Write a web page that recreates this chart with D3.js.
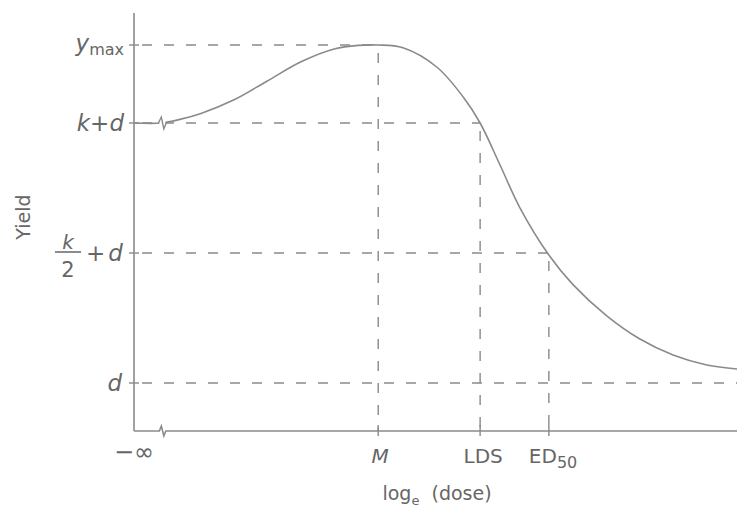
<!DOCTYPE html>
<html>
<head>
<meta charset="utf-8">
<script src="https://cdn.jsdelivr.net/npm/d3@7"></script>
<style>
  html, body { margin: 0; padding: 0; background: #fff; }
  svg { display: block; }
  text { font-family: "DejaVu Sans", "Liberation Sans", sans-serif; fill: #666; }
</style>
</head>
<body>
<svg id="chart" width="737" height="515"></svg>
<script>
// ---- data (arbitrary units) ----
const curveX = [0, 0.45, 0.76, 1.11, 1.66, 2.21, 2.77, 3.32, 3.72, 4.05, 4.46, 5.02, 5.46, 5.74, 6.07, 6.40, 6.88, 7.28, 7.84, 8.39, 8.94, 9.50, 10.0];
const curveY = [7.7, 7.7, 7.79, 7.94, 8.28, 8.75, 9.23, 9.55, 9.64, 9.65, 9.58, 9.10, 8.35, 7.70, 6.65, 5.58, 4.40, 3.66, 2.88, 2.30, 1.90, 1.65, 1.55];
const levelNames = ["ymax", "k+d", "k/2+d", "d"];
const levelValues = [9.65, 7.7, 4.45, 1.2];
const levelEnds = [4.05, 5.74, 6.88, 10.0];
const markerNames = ["M", "LDS", "ED50"];
const markerValues = [4.05, 5.74, 6.88];
const markerTops = [9.65, 7.7, 4.45];
const breakX = 0.47;
const xTitle = "log";
const yTitle = "Yield";

// ---- layout ----
const svg = d3.select("#chart");
const x = d3.scaleLinear().domain([0, 10]).range([134, 737]);
const y = d3.scaleLinear().domain([0, 10]).range([431, 31]);
const stroke = "#8a8a8a";

// axes
svg.append("line").attr("x1", x(0)).attr("x2", x(0)).attr("y1", y(10.45)).attr("y2", y(0))
  .attr("stroke", stroke).attr("stroke-width", 1.6);
const bx = x(breakX);
const axisPath = d3.path();
axisPath.moveTo(x(0), y(0));
axisPath.lineTo(bx - 3, y(0));
axisPath.lineTo(bx - 1, y(0) - 5);
axisPath.lineTo(bx + 1.5, y(0) + 5);
axisPath.lineTo(bx + 3.5, y(0));
axisPath.lineTo(x(10.05), y(0));
svg.append("path").attr("d", axisPath.toString()).attr("fill", "none")
  .attr("stroke", stroke).attr("stroke-width", 1.6);

// dashed guide lines
const dash = "10,12";
levelValues.forEach((v, i) => {
  svg.append("line").attr("x1", x(0)).attr("x2", x(levelEnds[i]))
    .attr("y1", y(v)).attr("y2", y(v))
    .attr("stroke", stroke).attr("stroke-width", 1.4).attr("stroke-dasharray", dash)
    .attr("stroke-dashoffset", -8);
  svg.append("line").attr("x1", x(0) - 5).attr("x2", x(0) + 5)
    .attr("y1", y(v)).attr("y2", y(v)).attr("stroke", stroke).attr("stroke-width", 1.4);
});
markerValues.forEach((m, i) => {
  svg.append("line").attr("x1", x(m)).attr("x2", x(m))
    .attr("y1", y(markerTops[i])).attr("y2", y(0))
    .attr("stroke", stroke).attr("stroke-width", 1.4).attr("stroke-dasharray", dash)
    .attr("stroke-dashoffset", -8);
  svg.append("line").attr("x1", x(m)).attr("x2", x(m))
    .attr("y1", y(0) - 6).attr("y2", y(0) + 5).attr("stroke", stroke).attr("stroke-width", 1.4);
});

// curve
const pts = curveX.map((d, i) => [d, curveY[i]]);
const line = d3.line().x(d => x(d[0])).y(d => y(d[1])).curve(d3.curveCatmullRom.alpha(0.5));
svg.append("path").datum(pts).attr("d", line).attr("fill", "none")
  .attr("stroke", stroke).attr("stroke-width", 1.6);
// break mark on curve
const cy = y(curveY[0]);
const cb = d3.path();
cb.moveTo(bx - 4, cy);
cb.lineTo(bx - 1, cy - 6);
cb.lineTo(bx + 1.5, cy + 6);
cb.lineTo(bx + 4, cy);
svg.append("rect").attr("x", bx - 3).attr("y", cy - 2).attr("width", 6).attr("height", 4).attr("fill", "#fff");
svg.append("path").attr("d", cb.toString()).attr("fill", "none").attr("stroke", stroke).attr("stroke-width", 1.4);

// ---- y level labels ----
const fs = 23;
const t0 = svg.append("text").attr("x", 124).attr("y", y(levelValues[0]) + 6)
  .attr("text-anchor", "end").attr("font-size", fs);
t0.append("tspan").attr("font-style", "italic").text("y");
t0.append("tspan").attr("font-size", 16).attr("dy", 4).text("max");
svg.append("text").attr("x", 124).attr("y", y(levelValues[1]) + 8)
  .attr("text-anchor", "end").attr("font-size", fs).attr("font-style", "italic").text("k+d");
const ly = y(levelValues[2]);
svg.append("text").attr("x", 68).attr("y", ly - 4).attr("text-anchor", "middle")
  .attr("font-size", 20).attr("font-style", "italic").text("k");
svg.append("line").attr("x1", 55).attr("x2", 81).attr("y1", ly - 1).attr("y2", ly - 1)
  .attr("stroke", "#666").attr("stroke-width", 1.5);
svg.append("text").attr("x", 68).attr("y", ly + 24).attr("text-anchor", "middle")
  .attr("font-size", 21).text("2");
const t2 = svg.append("text").attr("x", 86).attr("y", ly + 8).attr("font-size", fs);
t2.append("tspan").text("+");
t2.append("tspan").attr("dx", 3).attr("font-style", "italic").text("d");
svg.append("text").attr("x", 122).attr("y", y(levelValues[3]) + 8)
  .attr("text-anchor", "end").attr("font-size", fs).attr("font-style", "italic").text("d");

// ---- x labels ----
svg.append("text").attr("x", x(0)).attr("y", 460).attr("text-anchor", "middle")
  .attr("font-size", 24).text("−∞");
svg.append("text").attr("x", x(markerValues[0]) + 2).attr("y", 463).attr("text-anchor", "middle")
  .attr("font-size", 20).attr("font-style", "italic").text(markerNames[0]);
svg.append("text").attr("x", x(markerValues[1]) + 3).attr("y", 463).attr("text-anchor", "middle")
  .attr("font-size", 20).text(markerNames[1]);
const ed = svg.append("text").attr("x", x(markerValues[2]) - 20).attr("y", 463)
  .attr("font-size", 20);
ed.append("tspan").text("ED");
ed.append("tspan").attr("font-size", 16).attr("dy", 5).text("50");

// axis titles
const xt = svg.append("text").attr("x", 437).attr("y", 500).attr("text-anchor", "middle")
  .attr("font-size", 19);
xt.append("tspan").text(xTitle);
xt.append("tspan").attr("font-size", 13).attr("dy", 5).text("e");
xt.append("tspan").attr("dy", -5).text("\u00a0\u00a0(dose)");
svg.append("text").attr("transform", "translate(30,217) rotate(-90)").attr("text-anchor", "middle")
  .attr("font-size", 19).text(yTitle);
</script>
</body>
</html>
